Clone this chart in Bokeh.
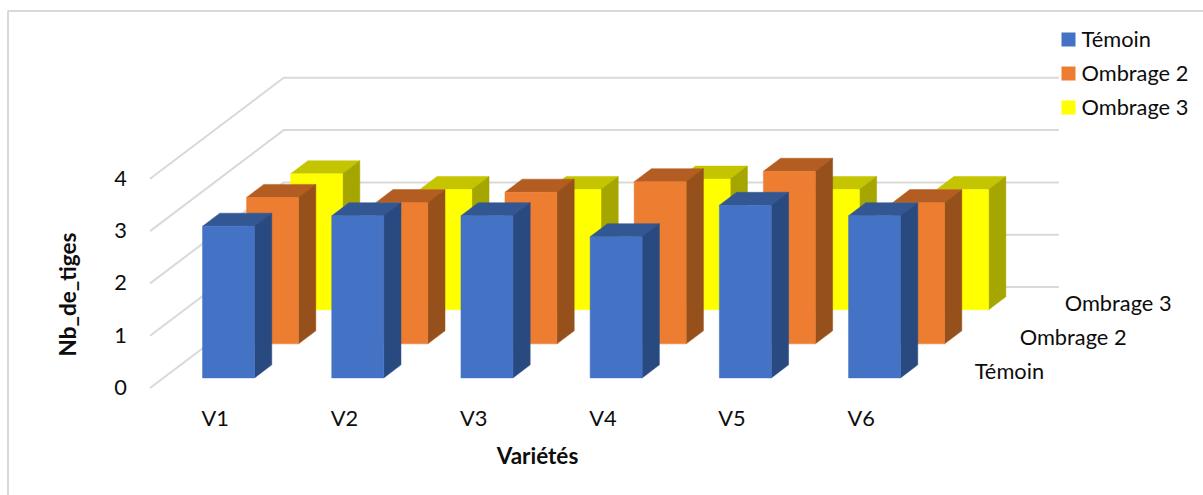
from bokeh.plotting import figure
from bokeh.models import Range1d
from bokeh.core.properties import value
from bokeh.embed import file_html
from bokeh.resources import INLINE

# Chart data
varietes = ["V1", "V2", "V3", "V4", "V5", "V6"]
temoin = [2.9, 3.1, 3.1, 2.7, 3.3, 3.1]
ombrage_2 = [2.8, 2.7, 2.9, 3.1, 3.3, 2.7]
ombrage_3 = [2.6, 2.3, 2.3, 2.5, 2.3, 2.3]
series_names = ["Témoin", "Ombrage 2", "Ombrage 3"]
value_ticks = [0, 1, 2, 3, 4]

# Oblique projection of (category, value, depth) onto the canvas
ORIGIN_X, ORIGIN_Y = 149.6, 387.5
CAT_STEP, UNIT = 129.2, 52.3
DEPTH_X, DEPTH_Y = 133.6, 101.0


def project(cat, val, depth):
    return (ORIGIN_X + cat * CAT_STEP + depth * DEPTH_X,
            ORIGIN_Y - val * UNIT - depth * DEPTH_Y)


def polygon(*corners):
    pts = [project(*c) for c in corners]
    return [p[0] for p in pts], [p[1] for p in pts]


BAR_GAP, BAR_WIDTH = 0.3025, 0.4025
Z_START, Z_STEP, Z_DEPTH = 0.1, 0.337, 0.129
ROW_LEAN = 0.0077  # rear rows sit slightly left of the wall's slant

# front, top and side shades per series
SHADES = [
    ("#4472C4", "#335793", "#294A80"),
    ("#ED7D31", "#B35D22", "#96501C"),
    ("#FFFF00", "#C4C400", "#A6A600"),
]
GRID = "#D9D9D9"
TEXT = "#0D0D0D"
FONT = value("Lato")
LABEL_SIZE = "21.8px"
TITLE_SIZE = "22.5px"

p = figure(width=1203, height=495, output_backend="svg", toolbar_location=None,
           x_range=Range1d(0, 1203), y_range=Range1d(495, 0),
           x_axis_location=None, y_axis_location=None, min_border=0,
           outline_line_color=None, background_fill_color="white",
           border_fill_color="white")
p.grid.visible = False

# Chart frame
p.line([7.5, 7.5, 1203], [495, 10.5, 10.5], line_color=GRID, line_width=2)

# Wall gridlines running from the front edge to the back, then across
for tick in value_ticks:
    a = project(0, tick, 0)
    b = project(0, tick, 1)
    c = project(len(varietes), tick, 1)
    p.line([a[0], b[0], c[0]], [a[1], b[1], c[1]], line_color=GRID, line_width=2)

# Bars, drawn from the back row to the front row
rows = [temoin, ombrage_2, ombrage_3]
for s in (2, 1, 0):
    z0 = Z_START + s * Z_STEP
    z1 = z0 + Z_DEPTH
    front_c, top_c, side_c = SHADES[s]
    for i, v in enumerate(rows[s]):
        x0 = i + BAR_GAP - s * ROW_LEAN
        x1 = x0 + BAR_WIDTH
        fx, fy = polygon((x0, 0, z0), (x1, 0, z0), (x1, v, z0), (x0, v, z0))
        tx, ty = polygon((x0, v, z0), (x1, v, z0), (x1, v, z1), (x0, v, z1))
        sx, sy = polygon((x1, 0, z0), (x1, 0, z1), (x1, v, z1), (x1, v, z0))
        p.patch(tx, ty, fill_color=top_c, line_color=top_c, line_width=0.5)
        p.patch(sx, sy, fill_color=side_c, line_color=side_c, line_width=0.5)
        p.patch(fx, fy, fill_color=front_c, line_color=front_c, line_width=0.5)

# Value labels at the front of the left wall
tick_x = [ORIGIN_X - 29.5] * len(value_ticks)
tick_y = [project(0, t, 0)[1] - 0.5 for t in value_ticks]
p.text(tick_x, tick_y, text=[str(t) for t in value_ticks], text_font=FONT,
       text_font_size=LABEL_SIZE, text_color=TEXT, text_align="center", text_baseline="middle")

# Category labels under the bars
cat_pts = [project(i + BAR_GAP, 0, Z_START) for i in range(len(varietes))]
p.text([c[0] - 1 for c in cat_pts], [c[1] + 39.5 for c in cat_pts], text=varietes,
       text_font=FONT, text_font_size=LABEL_SIZE, text_color=TEXT, text_align="left",
       text_baseline="middle")

# Series labels along the depth axis
depth_pts = [project(len(varietes), 0, Z_START + s * Z_STEP) for s in range(3)]
p.text([d[0] + 36 for d in depth_pts], [d[1] - 7 for d in depth_pts], text=series_names,
       text_font=FONT, text_font_size=LABEL_SIZE, text_color=TEXT, text_align="left",
       text_baseline="middle")

# Axis titles
p.text([537], [454.5], text=["Variétés"], text_font=FONT, text_font_size=TITLE_SIZE,
       text_font_style="bold", text_color=TEXT, text_align="center", text_baseline="middle")
p.text([67], [294], text=["Nb_de_tiges"], text_font=FONT, text_font_size=TITLE_SIZE,
       text_font_style="bold", text_color=TEXT, text_align="center", text_baseline="middle",
       angle=1.5708)

# Legend
legend_y = [39, 73, 107]
p.rect([1068] * 3, legend_y, width=14, height=14, fill_color=[s[0] for s in SHADES],
       line_color=None)
p.text([1081] * 3, [y - 1.5 for y in legend_y], text=series_names, text_font=FONT,
       text_font_size=LABEL_SIZE, text_color=TEXT, text_align="left", text_baseline="middle")

open("out.html", "w").write(file_html(p, INLINE))
